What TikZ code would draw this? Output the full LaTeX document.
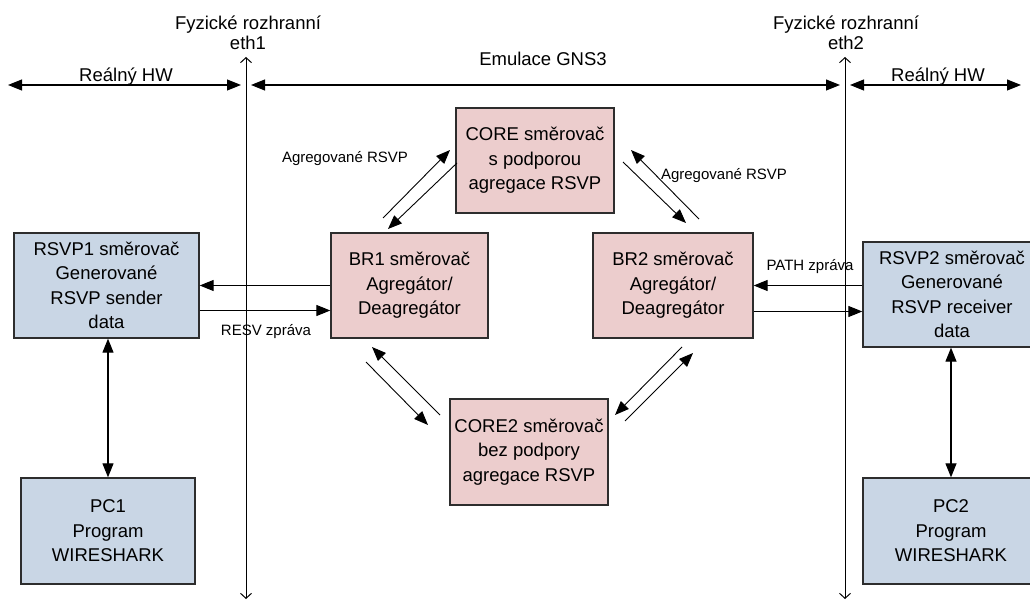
\documentclass[tikz,border=0pt]{standalone}
\usepackage{fontspec}
\setmainfont{Liberation Sans}
\usetikzlibrary{arrows.meta}
\definecolor{pinkbox}{RGB}{236,205,205}
\definecolor{bluebox}{RGB}{201,214,229}
\definecolor{edgecol}{RGB}{45,45,45}
\begin{document}
\begin{tikzpicture}[x=1pt,y=-1pt,
  box/.style={draw=edgecol,line width=1.3pt,minimum height=105pt,inner sep=0pt,align=center,font=\fontsize{18.5}{24.5}\selectfont},
  pinkb/.style={box,fill=pinkbox},
  blueb/.style={box,fill=bluebox},
  arr/.style={line width=1.1pt,-{Triangle[length=14pt,width=11pt]}},
  darr/.style={line width=1.1pt,{Triangle[length=14pt,width=11pt]}-{Triangle[length=14pt,width=11pt]}},
  diag/.style={line width=0.9pt,-{Triangle[length=14pt,width=11pt]}},
  vline/.style={line width=1pt,{Straight Barb[length=5pt,width=11pt]}-{Straight Barb[length=5pt,width=11pt]}},
  lbl/.style={font=\fontsize{15}{18}\selectfont,inner sep=0pt},
  head/.style={font=\fontsize{18.5}{20}\selectfont,align=center,inner sep=0pt}]
\useasboundingbox (0,0) rectangle (1030,601);

% headings
\node[head] (fyz1) at (248,32.5) {Fyzické rozhranní\\eth1};
\node[head] (fyz2) at (846,32.5) {Fyzické rozhranní\\eth2};
\node[head,anchor=base] (hw1) at (126,82) {Reálný HW};
\node[head,anchor=base] (emu) at (543,66) {Emulace GNS3};
\node[head,anchor=base] (hw2) at (938,82) {Reálný HW};

% interface lines
\coordinate (e1t) at (246,57);
\coordinate (e1b) at (246,599);
\coordinate (e2t) at (845,57);
\coordinate (e2b) at (845,599);
\draw[vline] (e1t) -- (e1b);
\draw[vline] (e2t) -- (e2b);

% range arrows
\coordinate (h1l) at (8,85);
\coordinate (h1r) at (241,85);
\coordinate (h2l) at (251,85);
\coordinate (h2r) at (840,85);
\coordinate (h3l) at (850,85);
\coordinate (h3r) at (1021,85);
\draw[darr] (h1l) -- (h1r);
\draw[darr] (h2l) -- (h2r);
\draw[darr] (h3l) -- (h3r);

% boxes
\node[blueb,minimum width=185pt] (rsvp1) at (106.5,285.5) {RSVP1 směrovač\\Generované\\RSVP sender\\data};
\node[pinkb,minimum width=157pt] (br1) at (409.5,285.5) {BR1 směrovač\\Agregátor/\\Deagregátor};
\node[pinkb,minimum width=158pt] (core) at (535,160.5) {CORE směrovač\\s podporou\\agregace RSVP};
\node[pinkb,minimum width=160pt] (br2) at (673,285.5) {BR2 směrovač\\Agregátor/\\Deagregátor};
\node[blueb,minimum width=178pt] (rsvp2) at (952,294.5) {RSVP2 směrovač\\Generované\\RSVP receiver\\data};
\node[pinkb,minimum width=158pt,minimum height=106pt] (core2) at (529,452) {CORE2 směrovač\\bez podpory\\agregace RSVP};
\node[blueb,minimum width=174pt,minimum height=106pt] (pc1) at (108,531) {PC1\\Program\\WIRESHARK};
\node[blueb,minimum width=176pt,minimum height=106pt] (pc2) at (951,531) {PC2\\Program\\WIRESHARK};

% horizontal message arrows
\draw[arr] (br1.west) -- (br1.west -| rsvp1.east);
\draw[arr] ([yshift=-25pt]rsvp1.east) -- ([yshift=-25pt]rsvp1.east -| br1.west);
\draw[arr] (rsvp2.west |- br2.east) -- (br2.east);
\draw[arr] ([yshift=-26pt]br2.east) -- ([yshift=-26pt]br2.east -| rsvp2.west);

% vertical PC arrows
\draw[darr] (rsvp1.south -| pc1.north) -- (pc1.north);
\draw[darr] (rsvp2.south -| pc2.north) -- (pc2.north);

% diagonal arrows
\coordinate (a1s) at (383,218); \coordinate (a1e) at (450,150);
\coordinate (a2s) at (457,163); \coordinate (a2e) at (388,229);
\coordinate (b1s) at (699,219); \coordinate (b1e) at (631,150);
\coordinate (b2s) at (623,162); \coordinate (b2e) at (686,223);
\coordinate (c1s) at (682,347); \coordinate (c1e) at (615,415);
\coordinate (c2s) at (625,421); \coordinate (c2e) at (693,353);
\coordinate (d1s) at (440,415); \coordinate (d1e) at (372,347);
\coordinate (d2s) at (366,362); \coordinate (d2e) at (428,425);
\draw[diag] (a1s) -- (a1e);
\draw[diag] (a2s) -- (a2e);
\draw[diag] (b1s) -- (b1e);
\draw[diag] (b2s) -- (b2e);
\draw[diag] (c1s) -- (c1e);
\draw[diag] (c2s) -- (c2e);
\draw[diag] (d1s) -- (d1e);
\draw[diag] (d2s) -- (d2e);

% labels
\node[lbl] (ag1) at (345,159) {Agregované RSVP};
\node[lbl] (ag2) at (724,176) {Agregované RSVP};
\node[lbl] (resv) at (266,332) {RESV zpráva};
\node[lbl] (path) at (810,267) {PATH zpráva};
\end{tikzpicture}
\end{document}
